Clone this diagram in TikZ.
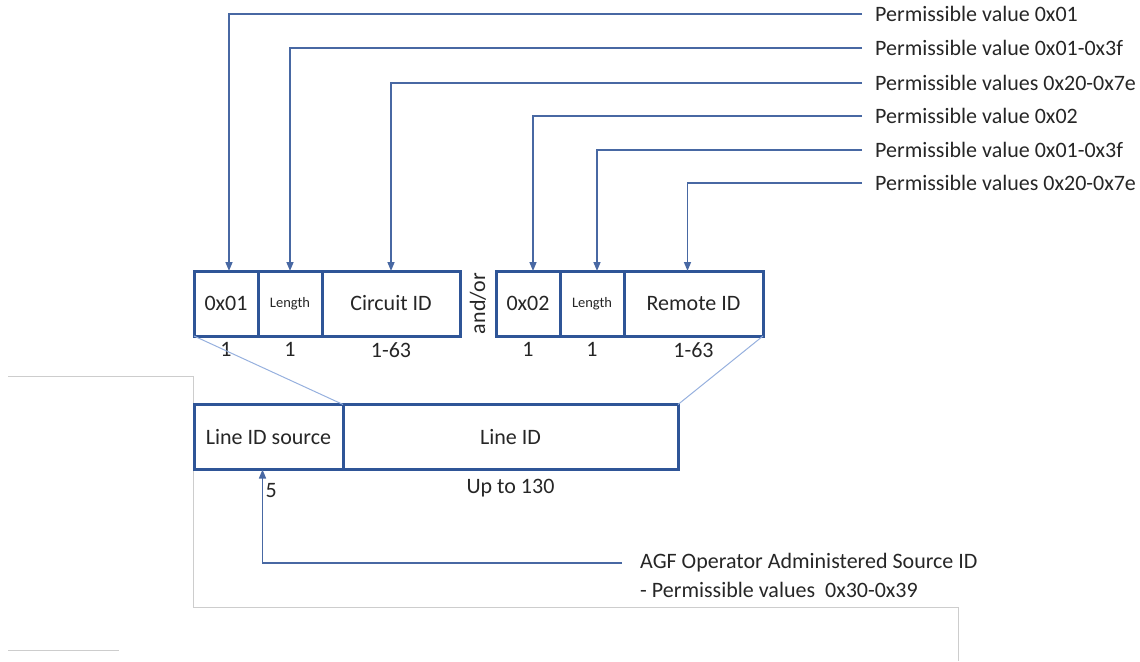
\documentclass[tikz,border=0pt]{standalone}
\usepackage{fontspec}
\setmainfont{Carlito}
\usetikzlibrary{positioning}
\usetikzlibrary{calc}
\usetikzlibrary{arrows.meta}
\definecolor{fieldblue}{RGB}{47,85,151}
\definecolor{pointerblue}{RGB}{72,104,163}
\definecolor{zoomblue}{RGB}{150,176,222}
\definecolor{edgegray}{RGB}{205,205,205}
\definecolor{textgray}{RGB}{38,38,38}
\tikzset{
  field/.style    = {shape=rectangle, draw=fieldblue, line width=3pt,
                     minimum height=65pt, inner sep=0pt, outer sep=0pt,
                     text=textgray, font=\fontsize{22}{26}\selectfont},
  tagfield/.style = {field, minimum width=64pt},
  lenfield/.style = {field, minimum width=64pt, font=\fontsize{14.5}{17}\selectfont},
  idfield/.style  = {field, minimum width=138pt},
  size/.style     = {inner sep=0pt, text=textgray, font=\fontsize{22}{26}\selectfont},
  note/.style     = {anchor=west, inner xsep=13pt, inner ysep=0pt,
                     text=textgray, font=\fontsize{22}{26}\selectfont},
  pointer/.style  = {draw=pointerblue, line width=1.5pt,
                     -{Triangle[width=7pt,length=9pt]}},
  zoomline/.style = {draw=zoomblue, line width=1pt},
  edgeline/.style = {draw=edgegray, line width=1pt}
}
\begin{document}
\begin{tikzpicture}[x=1pt, y=1pt]
  \useasboundingbox (0,0) rectangle (1140,-661);
  % leftover page edges
  \draw[edgeline] (8,-376) -| (193,-607) -| (958,-661);
  \draw[edgeline] (8,-650) -- (119,-650);

  % circuit id sub-option
  \node [tagfield] (tag1) at (226,-303.5) {0x01};
  \node [lenfield] (len1) [right=0pt of tag1] {Length};
  \node [idfield]  (cid)  [right=0pt of len1] {Circuit ID};
  % remote id sub-option
  \node [tagfield] (tag2) [right=36pt of cid] {0x02};
  \node [lenfield] (len2) [right=0pt of tag2] {Length};
  \node [idfield, minimum width=139pt] (rid) [right=0pt of len2] {Remote ID};
  \node [size, rotate=90] (andor) at ($(cid.east)!0.5!(tag2.west)$) {and/or};

  \node [size] (tag1len) [below=6pt of tag1] {1};
  \node [size] (len1len) [below=6pt of len1] {1};
  \node [size] (cidlen)  [below=6pt of cid]  {1-63};
  \node [size] (tag2len) [below=6pt of tag2] {1};
  \node [size] (len2len) [below=6pt of len2] {1};
  \node [size] (ridlen)  [below=6pt of rid]  {1-63};

  % line id
  \node [field, minimum width=149pt] (src) at (268.5,-437) {Line ID source};
  \node [field, minimum width=335pt] (lid) [right=0pt of src] {Line ID};
  \node [size] (lidlen) [below=10pt of lid] {Up to 130};
  \node [size, anchor=north west] (srclen) at ([shift={(-3pt,-14pt)}]src.south) {5};
  \path[zoomline] (tag1.south west) edge (lid.north west);
  \path[zoomline] (rid.south east) edge (lid.north east);

  % permissible values
  \node [note] (v1) at (862,-14)  {Permissible value 0x01};
  \node [note] (v2) at (862,-48)  {Permissible value 0x01-0x3f};
  \node [note] (v3) at (862,-83)  {Permissible values 0x20-0x7e};
  \node [note] (v4) at (862,-116) {Permissible value 0x02};
  \node [note] (v5) at (862,-150) {Permissible value 0x01-0x3f};
  \node [note] (v6) at (862,-183) {Permissible values 0x20-0x7e};
  \draw[pointer] (v1.west) -| ([xshift=3pt]tag1.north);
  \draw[pointer] (v2.west) -| (len1.north);
  \draw[pointer] (v3.west) -| (cid.north);
  \draw[pointer] (v4.west) -| ([xshift=5pt]tag2.north);
  \draw[pointer] (v5.west) -| ([xshift=5pt]len2.north);
  \draw[pointer] (v6.west) -| ([xshift=-6pt]rid.north);

  % source id
  \node [note, inner xsep=18pt] (agf) at (622,-563) {AGF Operator Administered Source ID};
  \node [note, inner xsep=18pt] (agfvals) at (622,-590) {- Permissible values\ \ 0x30-0x39};
  \draw[pointer] (agf.west) -| ([xshift=-6pt]src.south);
\end{tikzpicture}
\end{document}
